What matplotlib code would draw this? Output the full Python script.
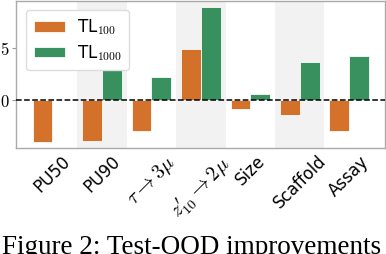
import matplotlib.pyplot as plt
import numpy as np

plt.rcParams["font.family"] = ["DejaVu Sans"]
plt.rcParams["mathtext.fontset"] = "cm"

# ---------------------------------------------------------------------------
# DATA
# ---------------------------------------------------------------------------
categories = ["PU50", "PU90", r"$\tau \rightarrow 3\mu$",
              r"$z^{\prime}_{10} \rightarrow 2\mu$",
              "Size", "Scaffold", "Assay"]
tl100 = [-4.0, -3.9, -2.9, 4.95, -0.8, -1.4, -2.9]
tl1000 = [0.0, 3.0, 2.25, 8.9, 0.65, 3.7, 4.2]
series_labels = [r"TL$_{100}$", r"TL$_{1000}$"]
yticks = [0, 5]

ORANGE = "#d2691e"
GREEN = "#2e8b57"

fig = plt.figure(figsize=(3.86, 2.54), dpi=100)
ax = fig.add_axes([0.041, 0.417, 0.956, 0.579])

x = np.arange(len(categories))
w = 0.4

# alternating background bands
for i in x:
    if i % 2 == 1:
        ax.axvspan(i - 0.5, i + 0.5, color="#f2f2f2", lw=0, zorder=0)

ax.bar(x - w / 2, tl100, width=w, color=ORANGE, edgecolor="white",
       linewidth=0.6, alpha=0.95, label=series_labels[0], zorder=2)
ax.bar(x + w / 2, tl1000, width=w, color=GREEN, edgecolor="white",
       linewidth=0.6, alpha=0.95, label=series_labels[1], zorder=2)

ax.axhline(0, color="black", linestyle="--", linewidth=1.1, zorder=3)

ax.set_xlim(-0.74, 6.72)
ax.set_ylim(-4.55, 9.5)
ax.set_yticks(yticks)
ax.set_yticklabels([rf"${t}$" for t in yticks], fontsize=12)
ax.set_xticks(x)
ax.set_xticklabels(categories, rotation=45, ha="center", fontsize=12)
for lbl in ax.get_xticklabels():
    if "$" in lbl.get_text():
        lbl.set_fontsize(14.5)
ax.tick_params(axis="x", length=0, pad=3)
ax.tick_params(axis="y", length=3, width=0.8, color="#999999", pad=1.5)

for s in ax.spines.values():
    s.set_color("#aaaaaa")
    s.set_linewidth(1.0)

ax.legend(loc="upper left", fontsize=12, frameon=True, framealpha=1,
          edgecolor="#dddddd", handlelength=1.9, handleheight=0.6,
          handletextpad=0.7, borderpad=0.45, labelspacing=0.35,
          bbox_to_anchor=(0.005, 0.997))

fig.text(0.006, 0.5 / 254, "Figure 2: Test-OOD improvements",
         family="Liberation Serif", fontsize=19.5, va="baseline", ha="left")

fig.savefig("out.png", dpi=100)
